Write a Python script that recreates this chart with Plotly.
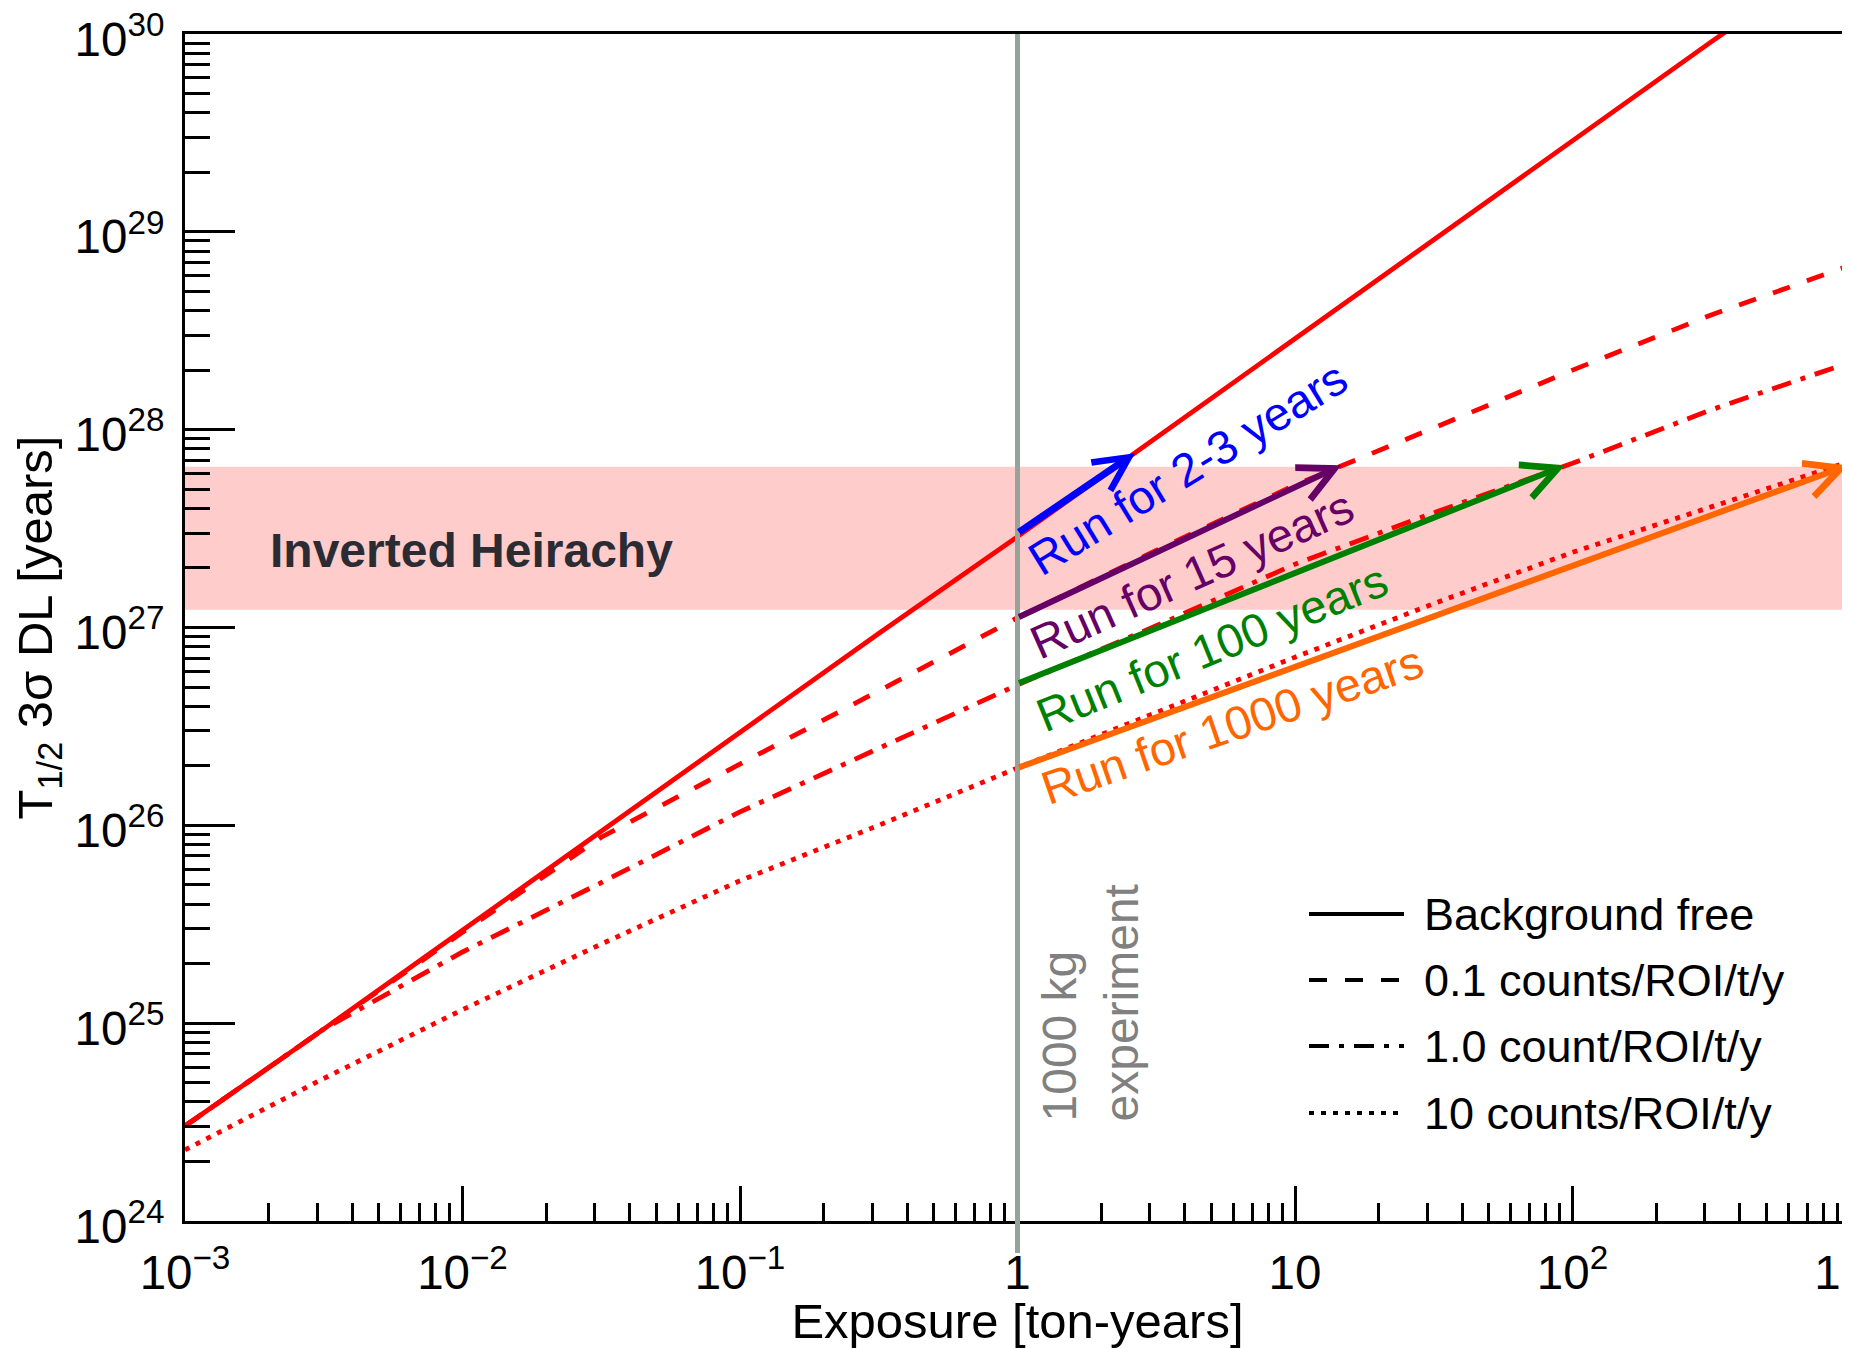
import plotly.graph_objects as go
import numpy as np

# ---------------- data ----------------
exposure = [0.001, 0.00316, 0.01, 0.0316, 0.1, 0.316, 1, 3.16, 10, 31.6, 100, 316, 1000]

t_bkg_free = [3.02e24, 9.33e24, 2.95e25, 9.33e25, 2.95e26, 9.33e26, 2.88e27,
              9.12e27, 2.88e28, 9.12e28, 2.88e29, 9.12e29, 2.82e30]
t_bkg_0p1 = [3.02e24, 9.33e24, 2.88e25, 8.71e25, 2.04e26, 4.79e26, 1.12e27,
             2.45e27, 5.25e27, 1.02e28, 2.00e28, 3.80e28, 6.76e28]
t_bkg_1p0 = [3.02e24, 9.33e24, 2.29e25, 5.13e25, 1.17e26, 2.45e26, 5.13e26,
             1.02e27, 2.09e27, 3.80e27, 6.76e27, 1.26e28, 2.19e28]
t_bkg_10 = [2.29e24, 5.25e24, 1.17e25, 2.51e25, 5.25e25, 1.00e26, 1.95e26,
            3.72e26, 7.08e26, 1.32e27, 2.40e27, 4.07e27, 6.92e27]

legend_labels = ["Background free", "0.1 counts/ROI/t/y", "1.0 count/ROI/t/y", "10 counts/ROI/t/y"]

# inverted hierarchy band
band_low = 1.23e27
band_high = 6.5e27

# 1000 kg experiment marker
experiment_exposure = 1.0

# run-time arrows
run_labels = ["Run for 2-3 years", "Run for 15 years", "Run for 100 years", "Run for 1000 years"]
run_colors = ["#0000ff", "#660066", "#008000", "#ff6600"]
arrow_start_exposure = [1.0, 1.0, 1.0, 1.0]
arrow_start_t = [3.0e27, 1.12e27, 5.2e26, 1.95e26]
arrow_end_exposure = [2.65, 14.7, 94.0, 985.0]
arrow_end_t = [7.6e27, 6.6e27, 6.6e27, 6.6e27]

# ---------------- styling ----------------
FONT = "Liberation Sans, Arial, Helvetica, sans-serif"
OFF = 8  # default page body margin
W, H = 1850 - OFF, 1348 - OFF
# plot area in screen pixels
PL, PT, PR, PB = 185, 34, 1850, 1221
ML, MT = PL - OFF, PT - OFF
MR = (W + OFF) - PR
MB = (H + OFF) - PB
PW, PH = PR - PL, PB - PT


def px2paper(x, y):
    return (x - PL) / PW, (PB - y) / PH


dashes = ["solid", "18px,18px", "20px,10px,5px,10px", "5px,7px"]
series = [t_bkg_free, t_bkg_0p1, t_bkg_1p0, t_bkg_10]

fig = go.Figure()
for vals, dash, name in zip(series, dashes, legend_labels):
    fig.add_trace(go.Scatter(x=exposure, y=vals, mode="lines", name=name,
                             line=dict(color="#ff0000", width=4.8, dash=dash),
                             showlegend=False, hoverinfo="skip"))

shapes = []
# band
shapes.append(dict(type="rect", xref="paper", yref="y", x0=0, x1=1,
                   y0=band_low, y1=band_high, fillcolor="#ffcccc",
                   line=dict(width=0), layer="below"))
# vertical experiment line
shapes.append(dict(type="line", xref="x", yref="paper",
                   x0=experiment_exposure, x1=experiment_exposure,
                   y0=-0.027, y1=1, line=dict(color="#95a39a", width=5), layer="above"))

annotations = []
# arrows
arrow_widths = [7, 6, 6, 6]
arrow_sizes = [0.95, 1.15, 1.15, 1.15]
for i in range(4):
    annotations.append(dict(
        x=np.log10(arrow_end_exposure[i]), y=np.log10(arrow_end_t[i]),
        ax=np.log10(arrow_start_exposure[i]), ay=np.log10(arrow_start_t[i]),
        xref="x", yref="y", axref="x", ayref="y", text="", showarrow=True,
        arrowhead=5, arrowsize=arrow_sizes[i], arrowwidth=arrow_widths[i],
        arrowcolor=run_colors[i], standoff=0, startstandoff=0))

# run labels (centre px, angle)
label_pos = [(1187, 468, -31.5), (1191, 574, -24), (1212, 647, -22), (1232, 724, -19)]
for (cx, cy, ang), txt, col in zip(label_pos, run_labels, run_colors):
    xp, yp = px2paper(cx, cy)
    annotations.append(dict(x=xp, y=yp, xref="paper", yref="paper", text=txt,
                            showarrow=False, textangle=ang, xanchor="center", yanchor="middle",
                            font=dict(family=FONT, size=47, color=col)))

# Inverted hierarchy label
xp, yp = px2paper(268, 550)
annotations.append(dict(x=xp, y=yp, xref="paper", yref="paper", text="<b>Inverted Heirachy</b>",
                        showarrow=False, xanchor="left", yanchor="middle",
                        font=dict(family=FONT, size=48, color="#2b2b33")))

# 1000 kg experiment
xp, yp = px2paper(1090, 1124)
annotations.append(dict(x=xp, y=yp, xref="paper", yref="paper", text="1000 kg<br>experiment",
                        showarrow=False, textangle=-90, xanchor="center", yanchor="bottom",
                        align="left", font=dict(family=FONT, size=48, color="#808080")))

# legend (drawn manually with black line samples)
legend_y = [914, 980, 1046, 1113]
for ly, dash, lab in zip(legend_y, dashes, legend_labels):
    x0p, yp = px2paper(1309, ly)
    x1p, _ = px2paper(1404, ly)
    shapes.append(dict(type="line", xref="paper", yref="paper", x0=x0p, x1=x1p, y0=yp, y1=yp,
                       line=dict(color="black", width=4, dash=dash)))
    txp, _ = px2paper(1422, ly)
    annotations.append(dict(x=txp, y=yp, xref="paper", yref="paper", text=lab, showarrow=False,
                            xanchor="left", yanchor="middle",
                            font=dict(family=FONT, size=45, color="black")))

axis_common = dict(type="log", dtick=1, exponentformat="power", showline=True,
                   linecolor="black", linewidth=3, ticks="inside", tickwidth=2.5,
                   tickcolor="black", showgrid=False, zeroline=False, automargin=False,
                   ticklabeloverflow="allow",
                   tickfont=dict(family=FONT, size=38, color="black"))

fig.update_layout(
    width=W, height=H,
    margin=dict(l=ML, r=MR, t=MT, b=MB),
    plot_bgcolor="white", paper_bgcolor="white",
    showlegend=False,
    font=dict(family=FONT, color="black"),
    xaxis=dict(**axis_common, range=[-3, 3], mirror=True, ticklen=35,
               ticklabelstandoff=10,
               minor=dict(ticks="inside", ticklen=18, tickwidth=2.5, tickcolor="black",
                          dtick="D1", showgrid=False),
               title=dict(text="Exposure [ton-years]", font=dict(family=FONT, size=49),
                          standoff=2)),
    yaxis=dict(**axis_common, range=[24, 30], ticklen=50, ticklabelstandoff=10,
               ticklabelshift=5,
               minor=dict(ticks="inside", ticklen=25, tickwidth=2.5, tickcolor="black",
                          dtick="D1", showgrid=False),
               title=dict(text="T<sub>1/2</sub> 3σ DL [years]", font=dict(family=FONT, size=49),
                          standoff=8)),
    shapes=shapes,
    annotations=annotations,
)

fig.write_html("out.html")
